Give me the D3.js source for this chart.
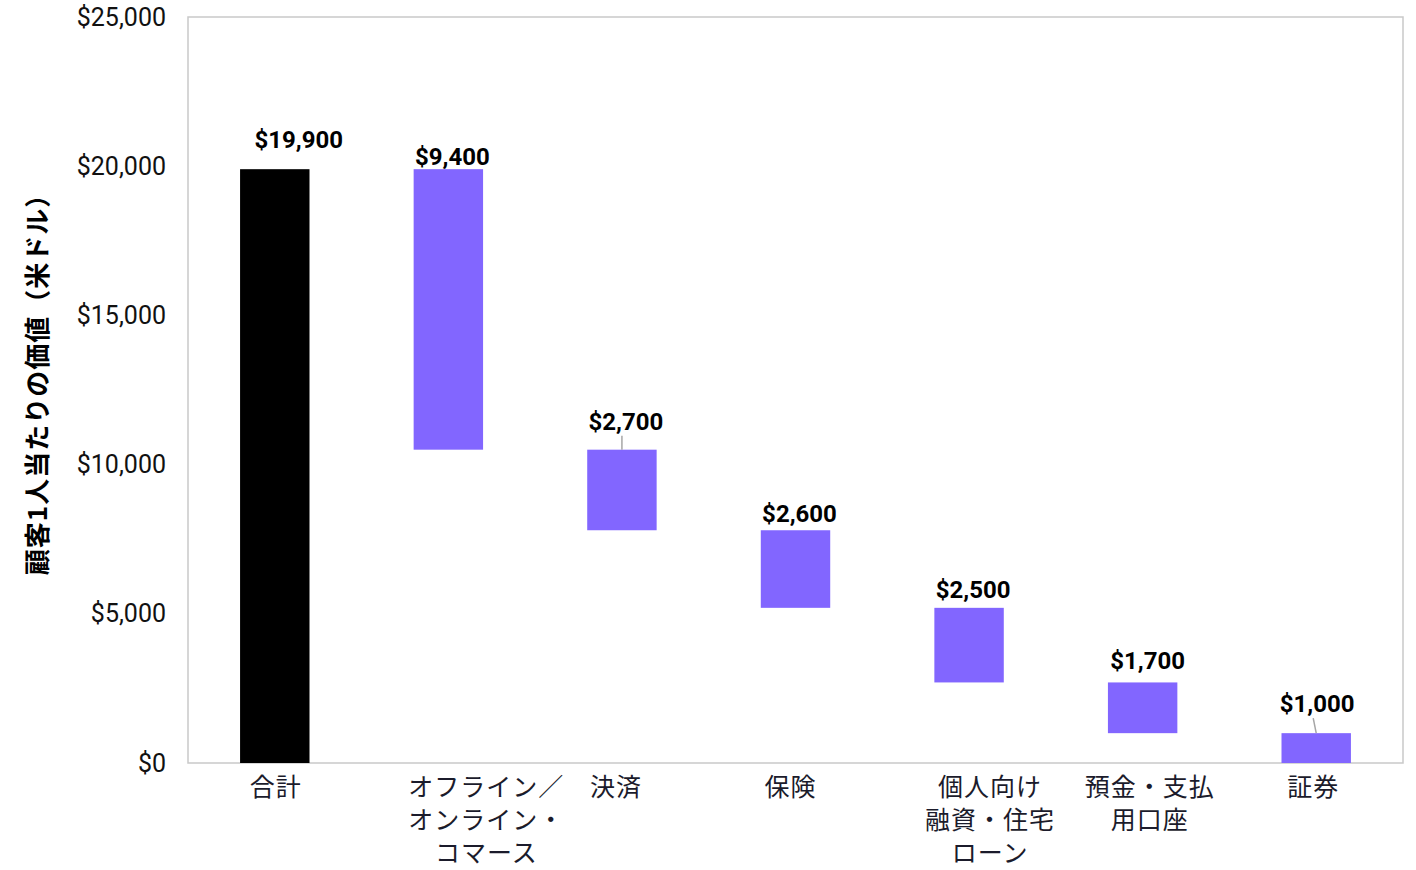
<!DOCTYPE html>
<html>
<head>
<meta charset="utf-8">
<script src="https://cdn.jsdelivr.net/npm/d3@7"></script>
<style>
  body { margin: 0; background: #fff; }
  .frame { fill: none; stroke: #c9c9c9; stroke-width: 1.5; }
</style>
</head>
<body>
<div id="chart"></div>
<script>
// waterfall: total first, then the parts that make it up
const categories = ["合計", "オフライン／オンライン・コマース", "決済", "保険", "個人向け融資・住宅ローン", "預金・支払用口座", "証券"]
const catLines = [["合計"], ["オフライン／", "オンライン・", "コマース"], ["決済"], ["保険"],
                  ["個人向け", "融資・住宅", "ローン"], ["預金・支払", "用口座"], ["証券"]]
const values = [19900, 9400, 2700, 2600, 2500, 1700, 1000]
const yTicks = [0, 5000, 10000, 15000, 20000, 25000]
const yTitle = "顧客1人当たりの価値（米ドル）"

// label tweaks (excel put them a bit off-centre)
const labelDx = [24, 4, 4, 4, 4, 5, 1]
const labelGap = [21, 4, 20, 8, 10, 13, 21]
const leader = [false, false, true, false, false, false, true]
const tickDx = [1, 38, -6, -5, 21, 7, -3]

const margin = {top: 17, right: 13, bottom: 107, left: 188}
const width = 1416 - margin.left - margin.right
const height = 870 - margin.top - margin.bottom

const totalColor = "#000000"
const partColor = "#8266ff"

var x = d3.scaleBand()
  .domain(categories)
  .range([0, width])
  .paddingInner(0.6)
  .paddingOuter(0.3)

var y = d3.scaleLinear()
  .domain([0, 25000])
  .range([height, 0])

var svg = d3.select("#chart")
  .append("svg")
  .attr("width", width + margin.left + margin.right)
  .attr("height", height + margin.top + margin.bottom)
  .append("g")
  .attr("transform", "translate(" + margin.left + "," + margin.top + ")")

// plot frame
svg.append("rect")
  .attr("class", "frame")
  .attr("x", 0).attr("y", 0)
  .attr("width", width).attr("height", height)

// y axis, no line or ticks, just labels
svg.append("g")
  .call(d3.axisLeft(y).tickValues(yTicks).tickSize(0).tickPadding(22)
    .tickFormat(d => "$" + d3.format(",")(d)))
  .call(g => g.select(".domain").remove())
  .selectAll("text")
  .style("font", "25px Roboto, 'Liberation Sans', sans-serif")
  .style("fill", "#111")

svg.append("text")
  .attr("transform", "translate(" + (-153) + "," + (height / 2 - 12) + ") rotate(-90)")
  .attr("text-anchor", "middle")
  .attr("dominant-baseline", "central")
  .style("font", "bold 26px 'Noto Sans CJK JP', sans-serif")
  .style("letter-spacing", "1px")
  .style("fill", "#000")
  .text(yTitle)

// build the waterfall pieces
var bars = []
var running = 0
values.forEach(function(v, i) {
  if (i == 0) {
    bars.push({cat: categories[i], v: v, top: v, bottom: 0, total: true})
    running = v
  } else {
    bars.push({cat: categories[i], v: v, top: running, bottom: running - v, total: false})
    running -= v
  }
})

svg.selectAll(".bar")
  .data(bars)
  .enter().append("rect")
  .attr("class", "bar")
  .attr("x", d => x(d.cat))
  .attr("width", x.bandwidth())
  .attr("y", d => y(d.top))
  .attr("height", d => y(d.bottom) - y(d.top))
  .style("fill", d => d.total ? totalColor : partColor)

// value labels
bars.forEach(function(d, i) {
  var cx = x(d.cat) + x.bandwidth() / 2
  var ty = y(d.top) - labelGap[i]
  if (leader[i]) {
    svg.append("line")
      .attr("x1", cx + labelDx[i] - 4).attr("y1", ty + 6)
      .attr("x2", cx).attr("y2", y(d.top))
      .style("stroke", "#a6a6a6")
      .style("stroke-width", 1.5)
  }
  svg.append("text")
    .attr("x", cx + labelDx[i])
    .attr("y", ty)
    .attr("text-anchor", "middle")
    .style("font", "bold 24px Roboto, 'Liberation Sans', sans-serif")
    .style("fill", "#000")
    .text("$" + d3.format(",")(d.v))
})

// category labels, wrapped like the original
categories.forEach(function(c, i) {
  var t = svg.append("text")
    .attr("x", x(c) + x.bandwidth() / 2 + tickDx[i])
    .attr("y", height + 33)
    .attr("text-anchor", "middle")
    .style("font", "25px 'Noto Sans CJK JP', sans-serif")
    .style("letter-spacing", "1px")
    .style("fill", "#1b1b2b")
  catLines[i].forEach(function(line, j) {
    t.append("tspan")
      .attr("x", x(c) + x.bandwidth() / 2 + tickDx[i])
      .attr("dy", j == 0 ? 0 : 33)
      .text(line)
  })
})
</script>
</body>
</html>
